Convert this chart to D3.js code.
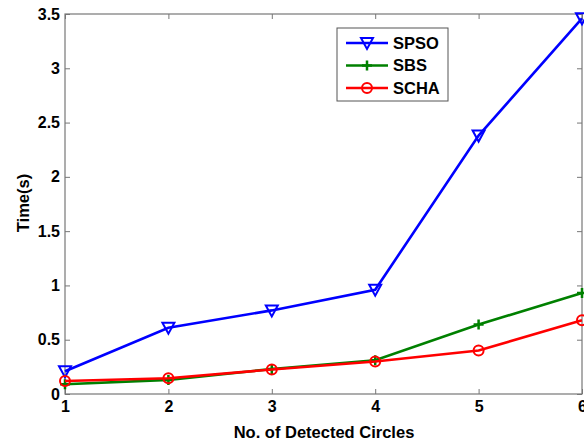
<!DOCTYPE html>
<html>
<head>
<meta charset="utf-8">
<script src="https://cdn.jsdelivr.net/npm/d3@7"></script>
<style>
  body { margin: 0; background: #fff; }
  text { font-family: "Liberation Sans", Arial, sans-serif; font-weight: bold; }
</style>
</head>
<body>
<svg id="chart" width="584" height="442"></svg>
<script>
let circles = [1, 2, 3, 4, 5, 6];
let spso = [0.21, 0.61, 0.77, 0.96, 2.38, 3.46];
let sbs = [0.09, 0.13, 0.23, 0.31, 0.64, 0.93];
let scha = [0.12, 0.145, 0.225, 0.30, 0.40, 0.68];
let yTicks = [0, 0.5, 1, 1.5, 2, 2.5, 3, 3.5];

let svg = d3.select("#chart");
let plotLeft = 65, plotRight = 582, plotTop = 14, plotBottom = 394;

let x = d3.scaleLinear().domain([1, 6]).range([plotLeft, plotRight]);
let y = d3.scaleLinear().domain([0, 3.5]).range([plotBottom, plotTop]);

let axisColor = "#777";
let tickLen = 5;

// ticks inward on all four sides
svg.append("g")
  .attr("transform", "translate(0," + plotBottom + ")")
  .call(d3.axisBottom(x).tickValues(circles).tickSize(-tickLen).tickPadding(7).tickFormat(d3.format("d")))
  .call(g => g.select(".domain").remove())
  .call(g => g.selectAll("line").attr("stroke", axisColor))
  .call(g => g.selectAll("text").style("font-size", "16px").attr("fill", "#000"));
svg.append("g")
  .attr("transform", "translate(0," + plotTop + ")")
  .call(d3.axisTop(x).tickValues(circles).tickSize(-tickLen).tickFormat(""))
  .call(g => g.select(".domain").remove())
  .call(g => g.selectAll("line").attr("stroke", axisColor))
svg.append("g")
  .attr("transform", "translate(" + plotLeft + ",0)")
  .call(d3.axisLeft(y).tickValues(yTicks).tickSize(-tickLen).tickPadding(5).tickFormat(d => d))
  .call(g => g.select(".domain").remove())
  .call(g => g.selectAll("line").attr("stroke", axisColor))
  .call(g => g.selectAll("text").style("font-size", "16px").attr("fill", "#000"));
svg.append("g")
  .attr("transform", "translate(" + plotRight + ",0)")
  .call(d3.axisRight(y).tickValues(yTicks).tickSize(-tickLen).tickFormat(""))
  .call(g => g.select(".domain").remove())
  .call(g => g.selectAll("line").attr("stroke", axisColor));

svg.append("rect")
  .attr("x", plotLeft).attr("y", plotTop)
  .attr("width", plotRight - plotLeft).attr("height", plotBottom - plotTop)
  .attr("fill", "none").attr("stroke", axisColor).attr("stroke-width", 1.2);

// axis titles
svg.append("text")
  .attr("x", 324)
  .attr("y", 438)
  .attr("text-anchor", "middle")
  .style("font-size", "16.5px")
  .text("No. of Detected Circles");
svg.append("text")
  .attr("transform", "translate(29," + 203 + ") rotate(-90)")
  .attr("text-anchor", "middle")
  .style("font-size", "16.5px")
  .text("Time(s)");

let series = [
  { name: "SPSO", values: spso, color: "#0000ff", marker: "tri" },
  { name: "SBS", values: sbs, color: "#008000", marker: "plus" },
  { name: "SCHA", values: scha, color: "#ff0000", marker: "circle" }
];

let line = d3.line().x((d, i) => x(circles[i])).y(d => y(d));

function drawMarker(g, type, cx, cy, color) {
  if (type === "tri") {
    g.append("path")
      .attr("d", "M" + (cx - 6) + "," + (cy - 5) + "L" + (cx + 6) + "," + (cy - 5) + "L" + cx + "," + (cy + 6) + "Z")
      .attr("fill", "none").attr("stroke", color).attr("stroke-width", 2);
  } else if (type === "plus") {
    g.append("path")
      .attr("d", "M" + (cx - 5) + "," + cy + "H" + (cx + 5) + "M" + cx + "," + (cy - 5) + "V" + (cy + 5))
      .attr("stroke", color).attr("stroke-width", 2.5);
  } else {
    g.append("circle")
      .attr("cx", cx).attr("cy", cy).attr("r", 5)
      .attr("fill", "none").attr("stroke", color).attr("stroke-width", 2);
  }
}

series.forEach(s => {
  let g = svg.append("g");
  g.append("path")
    .attr("d", line(s.values))
    .attr("fill", "none")
    .attr("stroke", s.color)
    .attr("stroke-width", 2.6);
  s.values.forEach((v, i) => drawMarker(g, s.marker, x(circles[i]), y(v), s.color));
});

// legend
let lg = svg.append("g");
lg.append("rect")
  .attr("x", 337).attr("y", 28)
  .attr("width", 111).attr("height", 73)
  .attr("fill", "#fff").attr("stroke", "#555").attr("stroke-width", 1);
series.forEach((s, i) => {
  let ly = 43 + i * 22.5;
  lg.append("line")
    .attr("x1", 346).attr("x2", 388).attr("y1", ly).attr("y2", ly)
    .attr("stroke", s.color).attr("stroke-width", 2.6);
  drawMarker(lg, s.marker, 367, ly, s.color);
  lg.append("text")
    .attr("x", 393).attr("y", ly)
    .attr("dy", "0.36em")
    .style("font-size", "16.5px")
    .text(s.name);
});
</script>
</body>
</html>
